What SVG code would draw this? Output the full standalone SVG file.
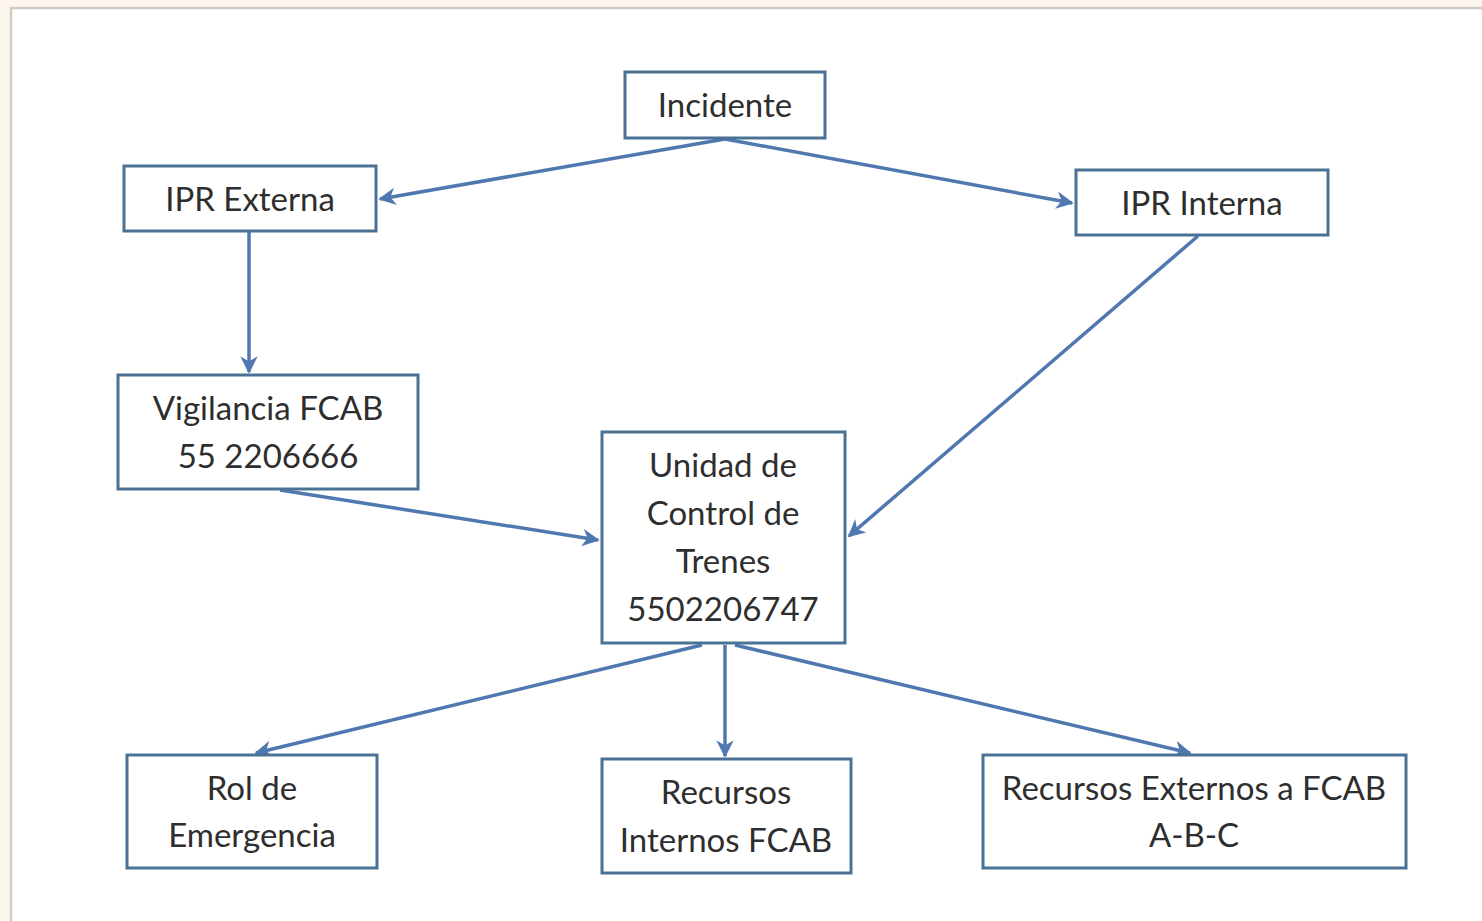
<svg xmlns="http://www.w3.org/2000/svg" width="1482" height="921" viewBox="0 0 1482 921">
<style>
.box{fill:#ffffff;stroke:#4a7296;stroke-width:3}
.t{font-family:Lato,"Open Sans",sans-serif;font-size:33px;fill:#2e2e2e;text-anchor:middle}
.c{stroke:#4f78b0;stroke-width:3.5;fill:none;marker-end:url(#ah)}
</style>
<defs>
<marker id="ah" viewBox="0 0 10 10" refX="9" refY="5" markerWidth="5" markerHeight="5" orient="auto" markerUnits="strokeWidth">
<path d="M0,0 L10,5 L0,10 L3,5 z" fill="#4f78b0"/>
</marker>
</defs>
<rect x="0" y="0" width="1482" height="921" fill="#fdf7ef"/>
<rect x="11" y="8" width="1480" height="920" fill="#ffffff" stroke="#d3cbc1" stroke-width="2.5"/>
<g id="connectors">
<path class="c" d="M725,139 L380,199"/>
<path class="c" d="M725,139 L1072,203"/>
<path class="c" d="M249,232 L249,372"/>
<path class="c" d="M1198,236 L849,536"/>
<path class="c" d="M280,490 L598,540"/>
<path class="c" d="M702,645 L256,753"/>
<path class="c" d="M725,645 L725,756"/>
<path class="c" d="M735,645 L1190,753"/>
</g>
<g id="incidente"><rect class="box" x="625" y="72" width="200" height="66"/><text class="t" x="725" y="117">Incidente</text></g>
<g id="ipr-externa"><rect class="box" x="124" y="166" width="252" height="65"/><text class="t" x="250" y="211">IPR Externa</text></g>
<g id="ipr-interna"><rect class="box" x="1076" y="170" width="252" height="65"/><text class="t" x="1202" y="215">IPR Interna</text></g>
<g id="vigilancia"><rect class="box" x="118" y="375" width="300" height="114"/><text class="t" x="268" y="420">Vigilancia FCAB</text><text class="t" x="268" y="468">55 2206666</text></g>
<g id="unidad"><rect class="box" x="602" y="432" width="243" height="211"/><text class="t" x="723" y="477">Unidad de</text><text class="t" x="723" y="525">Control de</text><text class="t" x="723" y="573">Trenes</text><text class="t" x="723" y="621">5502206747</text></g>
<g id="rol"><rect class="box" x="127" y="755" width="250" height="113"/><text class="t" x="252" y="800">Rol de</text><text class="t" x="252" y="847">Emergencia</text></g>
<g id="recursos-internos"><rect class="box" x="602" y="759" width="249" height="114"/><text class="t" x="726" y="804">Recursos</text><text class="t" x="726" y="852">Internos FCAB</text></g>
<g id="recursos-externos"><rect class="box" x="983" y="755" width="423" height="113"/><text class="t" x="1194" y="800">Recursos Externos a FCAB</text><text class="t" x="1194" y="847">A-B-C</text></g>
</svg>
